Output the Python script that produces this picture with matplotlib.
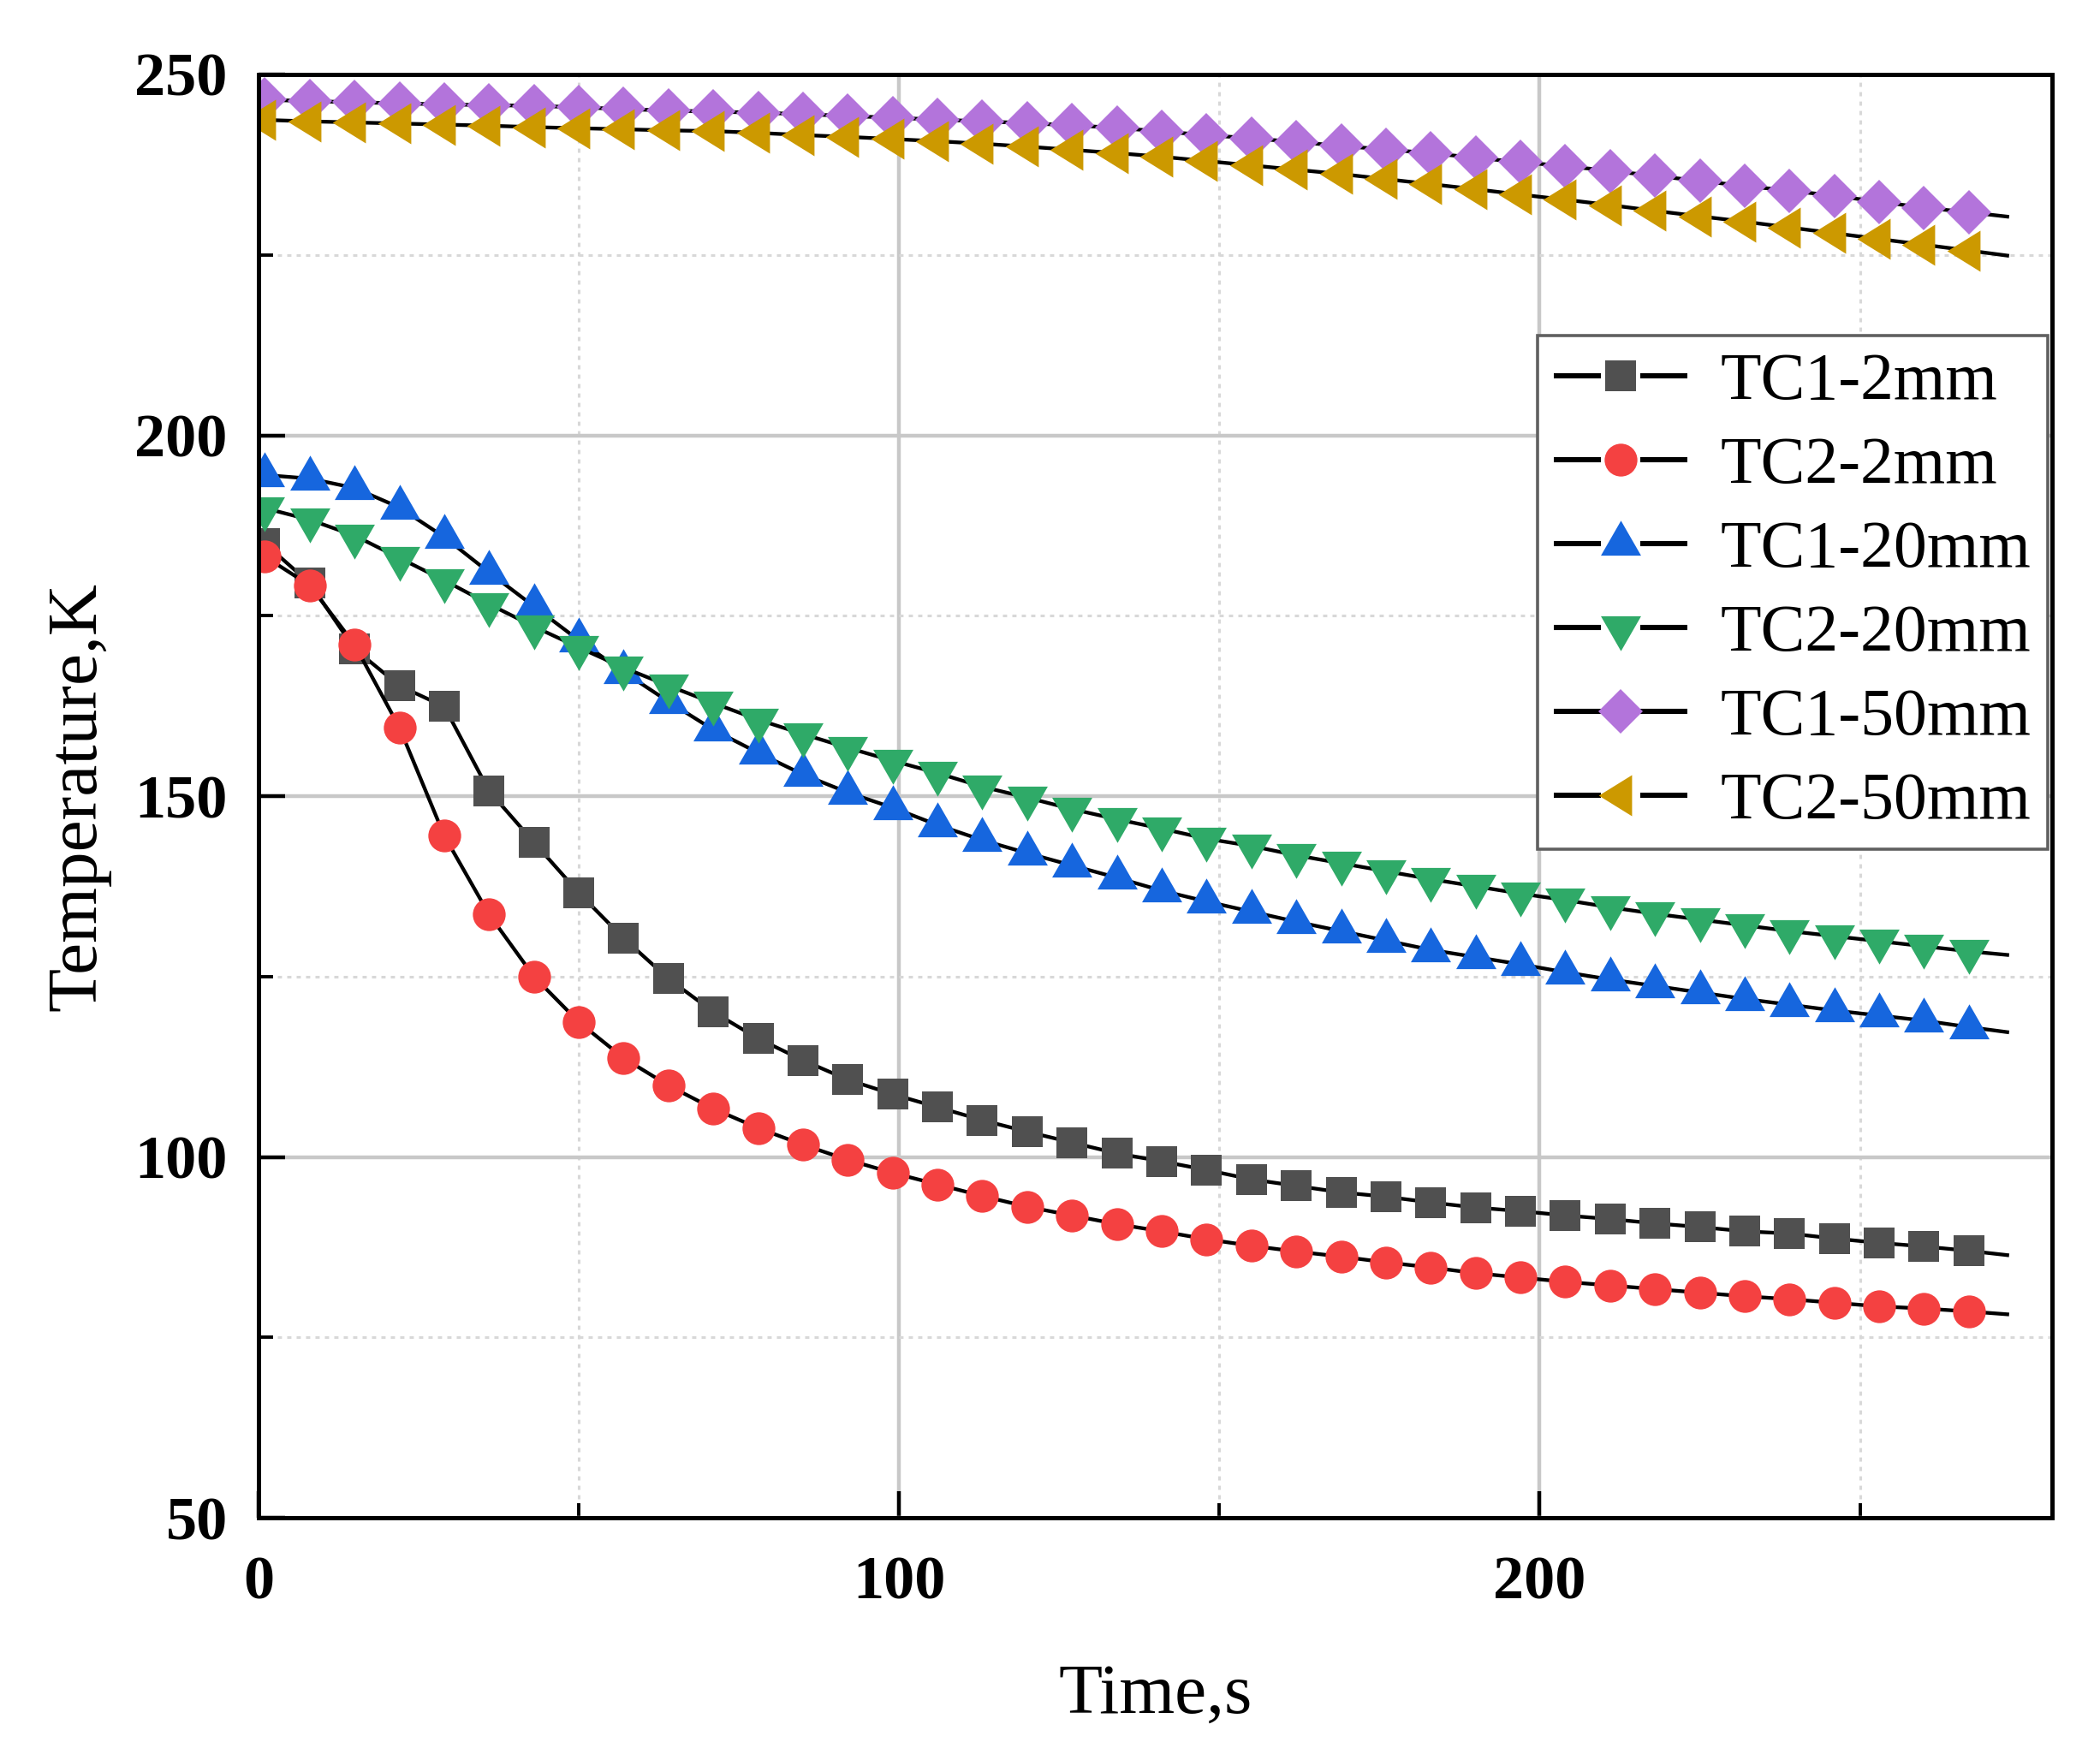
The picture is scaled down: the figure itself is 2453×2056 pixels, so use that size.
import matplotlib
matplotlib.use("Agg")
import matplotlib.pyplot as plt
from matplotlib.ticker import MultipleLocator
from matplotlib.lines import Line2D
from matplotlib.legend_handler import HandlerBase

# ---------------- data ----------------
time_s = [1, 8, 15, 22, 29, 36, 43, 50, 57, 64, 71, 78, 85, 92, 99, 106, 113, 120,
          127, 134, 141, 148, 155, 162, 169, 176, 183, 190, 197, 204, 211, 218, 225,
          232, 239, 246, 253, 260, 267, 273]

tc1_2mm = [185.0, 179.5, 170.4, 165.3, 162.4, 150.7, 143.6, 136.6, 130.3, 124.7,
           120.1, 116.4, 113.4, 110.7, 108.7, 106.9, 105.1, 103.5, 102.0, 100.5,
           99.4, 98.2, 96.9, 96.0, 95.1, 94.5, 93.7, 93.0, 92.5, 91.9, 91.4, 90.8,
           90.3, 89.7, 89.4, 88.7, 88.1, 87.6, 87.0, 86.4]
tc2_2mm = [183.2, 179.2, 171.0, 159.5, 144.5, 133.6, 125.0, 118.7, 113.7, 109.9,
           106.7, 104.0, 101.7, 99.6, 97.8, 96.2, 94.6, 93.1, 91.9, 90.7, 89.7,
           88.6, 87.7, 86.9, 86.2, 85.4, 84.7, 83.9, 83.3, 82.7, 82.2, 81.7, 81.2,
           80.7, 80.3, 79.8, 79.3, 79.0, 78.6, 78.2]
tc1_20mm = [194.5, 194.0, 192.7, 190.0, 185.9, 181.0, 176.3, 171.6, 167.2, 163.1,
            159.2, 156.0, 153.0, 150.5, 148.4, 146.0, 143.9, 142.1, 140.4, 138.7,
            136.9, 135.4, 134.0, 132.6, 131.3, 130.0, 128.7, 127.7, 126.7, 125.6,
            124.6, 123.7, 122.8, 121.9, 121.1, 120.3, 119.6, 118.9, 118.0, 117.3]
tc2_20mm = [189.9, 188.3, 186.1, 183.0, 179.9, 176.6, 173.5, 170.6, 167.8, 165.3,
            162.9, 160.6, 158.6, 156.7, 154.9, 153.2, 151.3, 149.8, 148.2, 146.8,
            145.5, 144.1, 143.1, 141.8, 140.7, 139.6, 138.5, 137.5, 136.5, 135.6,
            134.6, 133.7, 132.9, 132.1, 131.3, 130.6, 129.9, 129.2, 128.5, 128.0]
tc1_50mm = [246.5, 246.3, 246.15, 246.0, 245.85, 245.75, 245.65, 245.45, 245.2, 245.0,
            244.85, 244.7, 244.5, 244.25, 244.0, 243.75, 243.5, 243.25, 242.95, 242.6,
            242.1, 241.6, 241.15, 240.65, 240.1, 239.6, 239.1, 238.45, 237.85, 237.3,
            236.65, 235.95, 235.25, 234.55, 233.9, 233.2, 232.35, 231.55, 230.9, 230.3]
tc2_50mm = [243.7, 243.5, 243.35, 243.2, 243.05, 242.9, 242.7, 242.55, 242.4, 242.25,
            242.15, 241.9, 241.6, 241.35, 241.05, 240.75, 240.4, 240.0, 239.55, 239.1,
            238.6, 238.0, 237.4, 236.8, 236.2, 235.5, 234.8, 234.1, 233.35, 232.65,
            231.9, 231.1, 230.35, 229.6, 228.8, 228.0, 227.2, 226.4, 225.6, 224.9]

labels = ["TC1-2mm", "TC2-2mm", "TC1-20mm", "TC2-20mm", "TC1-50mm", "TC2-50mm"]
colors = ["#505050", "#F44141", "#1666DE", "#2FAA68", "#B374DB", "#CC9900"]

x_ticks = [0, 100, 200]
y_ticks = [50, 100, 150, 200, 250]

# ---------------- markers (triangles centred on their centroid) ----------------
tri_up = [(0, 1.0), (-0.862, -0.5), (0.862, -0.5)]
tri_down = [(0, -1.0), (-0.862, 0.5), (0.862, 0.5)]
tri_left = [(-1.0, 0), (0.5, 0.93), (0.5, -0.93)]
markers = ["s", "o", tri_up, tri_down, "D", tri_left]
msizes = [12.8, 13.8, 19.6, 19.6, 13.4, 18.6]

series = [tc1_2mm, tc2_2mm, tc1_20mm, tc2_20mm, tc1_50mm, tc2_50mm]

serif = ["Liberation Serif", "DejaVu Serif"]


class GapLineHandler(HandlerBase):
    """Origin-style legend entry: line - gap - marker - gap - line."""

    def create_artists(self, legend, orig_handle, xdescent, ydescent, width,
                       height, fontsize, trans):
        y = height / 2.0 - ydescent
        x0 = -xdescent
        x1 = -xdescent + width
        xc = 0.5 * (x0 + x1)
        gap = 0.15 * width
        l1 = Line2D([x0, xc - gap], [y, y], color="black", lw=2.2,
                    solid_capstyle="butt", transform=trans)
        l2 = Line2D([xc + gap, x1], [y, y], color="black", lw=2.2,
                    solid_capstyle="butt", transform=trans)
        m = Line2D([xc], [y], ls="none", marker=orig_handle.get_marker(),
                   ms=orig_handle.get_markersize(),
                   mfc=orig_handle.get_markerfacecolor(),
                   mec=orig_handle.get_markeredgecolor(), mew=0,
                   transform=trans)
        return [l1, l2, m]


fig = plt.figure(figsize=(2453 / 200, 2056 / 200), dpi=200)
ax = fig.add_axes([0.1231, 0.1376, 0.8541, 0.8201])

n_mark = len(time_s) - 1
handles = []
for vals, lab, col, mk, ms in zip(series, labels, colors, markers, msizes):
    ln, = ax.plot(time_s, vals, color="black", lw=1.55, marker=mk, ms=ms,
                  mfc=col, mec=col, mew=0, markevery=slice(0, n_mark), label=lab)
    handles.append(ln)

ax.set_xlim(0, 280)
ax.set_ylim(50, 250)
ax.set_xticks(x_ticks)
ax.set_yticks(y_ticks)
ax.xaxis.set_minor_locator(MultipleLocator(50))
ax.yaxis.set_minor_locator(MultipleLocator(25))

ax.set_axisbelow(True)
ax.grid(True, which="major", color="#C8C8C8", lw=1.6, ls="-")
ax.grid(True, which="minor", color="#D8D8D8", lw=1.1, ls=(0, (1.6, 2.0)))

for sp in ax.spines.values():
    sp.set_linewidth(1.8)
    sp.set_color("black")

ax.tick_params(which="major", direction="in", length=11, width=1.6, pad=13,
               top=False, right=False)
ax.tick_params(which="minor", direction="in", length=6, width=1.4,
               top=False, right=False)
ax.tick_params(axis="x", which="major", pad=16)

for lab in ax.get_xticklabels() + ax.get_yticklabels():
    lab.set_fontfamily(serif)
    lab.set_fontweight("bold")
    lab.set_fontsize(26)

ax.set_xlabel("Time,s", fontfamily=serif, fontsize=30, labelpad=22)
ax.set_ylabel("Temperature,K", fontfamily=serif, fontsize=30, labelpad=10)

leg = ax.legend(handles=handles, labels=labels, loc="upper left",
                bbox_to_anchor=(0.713, 0.819), numpoints=1,
                handler_map={Line2D: GapLineHandler()},
                prop={"family": serif, "size": 28}, frameon=True, fancybox=False,
                edgecolor="#606060", framealpha=1.0, borderpad=0.25,
                handlelength=2.0, handletextpad=0.5, labelspacing=0.34,
                borderaxespad=0.0)
leg.get_frame().set_linewidth(1.3)

fig.savefig("out.png", dpi=200)
